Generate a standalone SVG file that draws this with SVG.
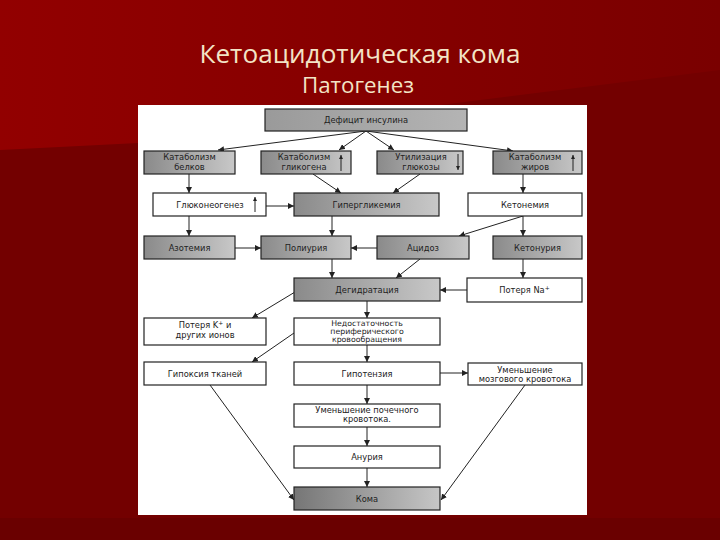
<svg xmlns="http://www.w3.org/2000/svg" width="720" height="540" viewBox="0 0 720 540">
<defs>
<linearGradient id="bgTop" x1="0" y1="0" x2="1" y2="0">
<stop offset="0" stop-color="#920000"/>
<stop offset="1" stop-color="#7a0000"/>
</linearGradient>
<linearGradient id="gray" x1="0" y1="0" x2="1" y2="0">
<stop offset="0" stop-color="#8a8a8a"/>
<stop offset="1" stop-color="#c8c8c8"/>
</linearGradient>
<linearGradient id="grayTop" x1="0" y1="0" x2="1" y2="0">
<stop offset="0" stop-color="#9a9a9a"/>
<stop offset="1" stop-color="#b4b4b4"/>
</linearGradient>
<linearGradient id="grayDark" x1="0" y1="0" x2="1" y2="0">
<stop offset="0" stop-color="#767676"/>
<stop offset="1" stop-color="#c6c6c6"/>
</linearGradient>
<marker id="ah" markerUnits="userSpaceOnUse" markerWidth="6" markerHeight="6" refX="6" refY="3" orient="auto">
<path d="M0,0 L6,3 L0,6 z" fill="#222"/>
</marker>
<marker id="ahs" markerUnits="userSpaceOnUse" markerWidth="5" markerHeight="5" refX="4" refY="2" orient="auto">
<path d="M0,0 L4,2 L0,4 z" fill="#222"/>
</marker>
</defs>
<style>
.box{stroke:#222;stroke-width:1.2}
.g{fill:url(#gray)}
.w{fill:#ffffff}
.t{font-family:"DejaVu Sans",sans-serif;font-size:8.3px;fill:#222;text-anchor:middle}
.s{font-size:7.8px}
.c line,.c path{stroke:#222;stroke-width:1;fill:none;marker-end:url(#ah)}
.ind{stroke:#222;stroke-width:1;marker-end:url(#ahs)}
.title{font-family:"Open Sans","Noto Sans",sans-serif;fill:#f3e4c6;text-anchor:middle}
</style>

<!-- background -->
<rect x="0" y="0" width="720" height="540" fill="#730000"/>
<polygon points="0,0 720,0 720,70 138,143 0,150" fill="url(#bgTop)"/>
<rect x="0" y="518" width="720" height="22" fill="#6a0000"/>

<text class="title" x="360" y="63" font-size="25" textLength="321" lengthAdjust="spacingAndGlyphs">Кетоацидотическая кома</text>
<text class="title" x="358" y="93" font-size="22" textLength="112" lengthAdjust="spacingAndGlyphs">Патогенез</text>

<rect x="138" y="105" width="449" height="410" fill="#ffffff"/>

<g class="c" id="connectors">
<line x1="366" y1="131" x2="218" y2="150"/>
<line x1="366" y1="131" x2="339" y2="150"/>
<line x1="366" y1="131" x2="394" y2="150"/>
<line x1="366" y1="131" x2="513" y2="151"/>
<line x1="189" y1="174" x2="189" y2="193"/>
<line x1="313" y1="174" x2="341" y2="193"/>
<line x1="420" y1="174" x2="393" y2="193"/>
<line x1="523" y1="174" x2="523" y2="193"/>
<line x1="266" y1="206" x2="294" y2="206"/>
<line x1="189" y1="216" x2="189" y2="236"/>
<line x1="332" y1="216" x2="332" y2="236"/>
<line x1="523" y1="216" x2="459" y2="236"/>
<line x1="523" y1="216" x2="523" y2="236"/>
<line x1="235" y1="248" x2="261" y2="248"/>
<line x1="377" y1="248" x2="351" y2="248"/>
<line x1="332" y1="259" x2="332" y2="278"/>
<line x1="420" y1="259" x2="396" y2="278"/>
<line x1="523" y1="259" x2="523" y2="278"/>
<line x1="467" y1="290" x2="440" y2="290"/>
<line x1="295" y1="292" x2="252" y2="318"/>
<line x1="367" y1="301" x2="367" y2="318"/>
<line x1="294" y1="333" x2="252" y2="362"/>
<line x1="367" y1="345" x2="367" y2="362"/>
<line x1="440" y1="373" x2="468" y2="373"/>
<line x1="367" y1="385" x2="367" y2="404"/>
<line x1="367" y1="427" x2="367" y2="446"/>
<line x1="367" y1="468" x2="367" y2="487"/>
<line x1="210" y1="385" x2="294" y2="500"/>
<line x1="525" y1="385" x2="441" y2="500"/>
</g>

<g id="n1"><rect class="box" x="265" y="109" width="202" height="22" fill="url(#grayTop)"/><text class="t" x="366" y="123">Дефицит инсулина</text></g>

<g id="n2"><rect class="box g" x="144" y="151" width="91" height="23"/><text class="t" x="189.5" y="160">Катаболизм</text><text class="t" x="189.5" y="170">белков</text></g>
<g id="n3"><rect class="box g" x="261" y="151" width="90" height="23"/><text class="t" x="304" y="160">Катаболизм</text><text class="t" x="304" y="170">гликогена</text><line class="ind" x1="341" y1="171" x2="341" y2="155"/></g>
<g id="n4"><rect class="box g" x="377" y="151" width="86" height="23"/><text class="t" x="421" y="160">Утилизация</text><text class="t" x="421" y="170">глюкозы</text><line class="ind" x1="458" y1="154" x2="458" y2="170"/></g>
<g id="n5"><rect class="box g" x="493" y="151" width="89" height="23"/><text class="t" x="535" y="160">Катаболизм</text><text class="t" x="535" y="170">жиров</text><line class="ind" x1="573" y1="171" x2="573" y2="155"/></g>

<g id="n6"><rect class="box w" x="153" y="193" width="113" height="23"/><text class="t" x="210" y="207.5">Глюконеогенез</text><line class="ind" x1="255" y1="212" x2="255" y2="197"/></g>
<g id="n7"><rect class="box g" x="294" y="193" width="145" height="23"/><text class="t" x="366.5" y="207.5">Гипергликемия</text></g>
<g id="n8"><rect class="box w" x="468" y="193" width="114" height="23"/><text class="t" x="525" y="207.5">Кетонемия</text></g>

<g id="n9"><rect class="box g" x="144" y="236" width="91" height="23"/><text class="t" x="189.5" y="250.5">Азотемия</text></g>
<g id="n10"><rect class="box g" x="261" y="236" width="90" height="23"/><text class="t" x="306" y="250.5">Полиурия</text></g>
<g id="n11"><rect class="box g" x="377" y="236" width="92" height="23"/><text class="t" x="423" y="250.5">Ацидоз</text></g>
<g id="n12"><rect class="box g" x="493" y="236" width="89" height="23"/><text class="t" x="537.5" y="250.5">Кетонурия</text></g>

<g id="n13"><rect class="box g" x="294" y="278" width="146" height="23"/><text class="t" x="367" y="292.5">Дегидратация</text></g>
<g id="n14"><rect class="box w" x="467" y="278" width="115" height="24"/><text class="t" x="524.5" y="293">Потеря Na<tspan font-size="6" dy="-3">+</tspan></text></g>

<g id="n15"><rect class="box w" x="144" y="318" width="122" height="27"/><text class="t" x="205" y="328">Потеря K<tspan font-size="6" dy="-3">+</tspan><tspan dy="3"> и</tspan></text><text class="t" x="205" y="338">других ионов</text></g>
<g id="n16"><rect class="box w" x="294" y="318" width="146" height="27"/><text class="t s" x="367" y="325.5">Недостаточность</text><text class="t s" x="367" y="333.5">периферического</text><text class="t s" x="367" y="341.5">кровообращения</text></g>

<g id="n17"><rect class="box w" x="144" y="362" width="122" height="23"/><text class="t" x="205" y="376.5">Гипоксия тканей</text></g>
<g id="n18"><rect class="box w" x="294" y="362" width="146" height="23"/><text class="t" x="367" y="376.5">Гипотензия</text></g>
<g id="n19"><rect class="box w" x="468" y="363" width="114" height="22"/><text class="t" x="525" y="373">Уменьшение</text><text class="t" x="525" y="382">мозгового кровотока</text></g>

<g id="n20"><rect class="box w" x="294" y="404" width="146" height="23"/><text class="t" x="367" y="413">Уменьшение почечного</text><text class="t" x="367" y="422">кровотока.</text></g>
<g id="n21"><rect class="box w" x="294" y="446" width="146" height="22"/><text class="t" x="367" y="460">Анурия</text></g>
<g id="n22"><rect class="box" x="294" y="487" width="146" height="23" fill="url(#grayDark)"/><text class="t" x="367" y="501.5">Кома</text></g>
</svg>
